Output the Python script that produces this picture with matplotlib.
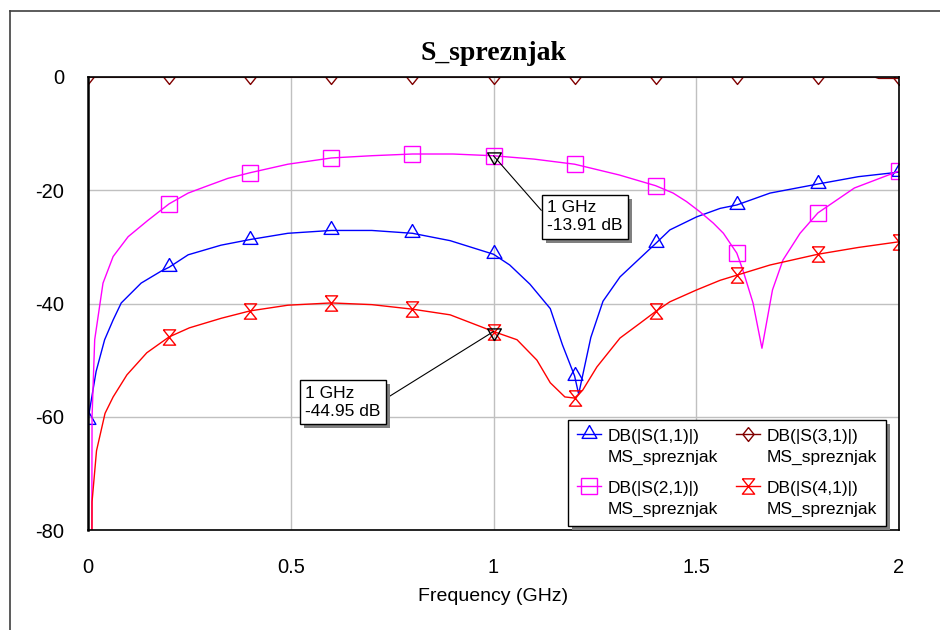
import matplotlib
matplotlib.use("Agg")
import matplotlib.pyplot as plt
import matplotlib.patheffects as pe
from matplotlib.lines import Line2D
from matplotlib.legend_handler import HandlerLine2D

# S(1,1)
f11 = [0.0, 0.02, 0.041, 0.062, 0.082, 0.131, 0.18, 0.2, 0.247, 0.328, 0.4, 0.493,
       0.6, 0.7, 0.8, 0.893, 1.0, 1.04, 1.09, 1.14, 1.17, 1.2, 1.21, 1.24, 1.27,
       1.312, 1.4, 1.435, 1.501, 1.559, 1.6, 1.682, 1.8, 1.9, 2.0]
s11 = [-60.5, -52.0, -46.4, -42.9, -39.9, -36.4, -34.3, -33.6, -31.4, -29.7, -28.7,
       -27.6, -27.1, -27.1, -27.6, -28.9, -31.3, -33.2, -36.6, -40.9, -47.3, -52.8,
       -56.0, -46.0, -39.6, -35.3, -29.4, -27.0, -24.7, -23.2, -22.6, -20.5, -18.9,
       -17.6, -16.8]

# S(2,1)
f21 = [0.0, 0.01, 0.0165, 0.037, 0.062, 0.099, 0.148, 0.2, 0.247, 0.288, 0.345, 0.4,
       0.493, 0.6, 0.7, 0.8, 0.9, 1.0, 1.1, 1.2, 1.31, 1.4, 1.443, 1.476, 1.509,
       1.542, 1.567, 1.583, 1.6, 1.615, 1.64, 1.662, 1.688, 1.714, 1.756, 1.8, 1.89,
       2.0]
s21 = [-400, -60.0, -46.4, -36.4, -31.7, -28.2, -25.3, -22.4, -20.5, -19.4, -17.9,
       -16.9, -15.4, -14.3, -13.9, -13.6, -13.6, -13.91, -14.5, -15.4, -17.3, -19.2,
       -20.5, -22.0, -23.8, -25.8, -27.6, -29.3, -31.1, -34.1, -39.9, -47.9, -37.6,
       -32.3, -27.6, -24.0, -19.6, -16.6]

# S(3,1)
f31 = [0.0, 0.2, 0.4, 0.6, 0.8, 1.0, 1.2, 1.4, 1.6, 1.8, 1.94, 1.95, 2.0]
s31 = [0.0, 0.0, 0.0, 0.0, 0.0, 0.0, 0.0, 0.0, 0.0, 0.0, 0.0, -0.25, -0.25]

# S(4,1)
f41 = [0.0, 0.01, 0.021, 0.042, 0.062, 0.096, 0.145, 0.2, 0.25, 0.329, 0.4, 0.493,
       0.6, 0.7, 0.8, 0.893, 1.0, 1.058, 1.107, 1.14, 1.176, 1.2, 1.22, 1.255, 1.312,
       1.361, 1.4, 1.435, 1.501, 1.559, 1.6, 1.682, 1.8, 1.9, 2.0]
s41 = [-400, -75.0, -66.0, -59.4, -56.5, -52.6, -48.7, -45.9, -44.3, -42.6, -41.3,
       -40.3, -39.9, -40.2, -41.0, -42.0, -44.95, -46.4, -50.0, -54.0, -56.5, -56.7,
       -55.3, -51.2, -46.1, -43.5, -41.4, -39.7, -37.6, -35.9, -35.0, -33.2, -31.3,
       -30.1, -29.1]

# markers of the two readouts
m1 = (1.0, -13.91)
m2 = (1.0, -44.95)

xticks = [0, 0.5, 1, 1.5, 2]
xlabels = ["0", "0.5", "1", "1.5", "2"]
yticks = [0, -20, -40, -60, -80]


def every_02(freqs):
    return [i for i, f in enumerate(freqs) if abs(f * 5 - round(f * 5)) < 1e-9]


# marker shapes like the simulator draws them
tri_up = [(0, 1), (-0.82, -0.43), (0.82, -0.43), (0, 1)]
tri_down = [(0, -1), (-0.82, 0.43), (0.82, 0.43), (0, -1)]
hourglass = [(-0.8, 1), (0.8, 1), (-0.8, -1), (0.8, -1), (-0.8, 1)]
diamond = [(0, 1), (0.8, 0), (0, -1), (-0.8, 0), (0, 1)]


class FirstLineHandler(HandlerLine2D):
    # put the legend sample next to the first line of a two-line label
    def create_artists(self, legend, orig_handle, xdescent, ydescent, width, height,
                       fontsize, trans):
        return super().create_artists(legend, orig_handle, xdescent,
                                      ydescent - 1.5 * fontsize, width, height,
                                      fontsize, trans)


plt.rcParams["font.family"] = ["Liberation Sans", "DejaVu Sans"]
plt.rcParams["axes.unicode_minus"] = False

fig = plt.figure(figsize=(9.4, 6.3), dpi=100)
ax = fig.add_axes([88 / 940, 100 / 630, 811 / 940, 453 / 630])

kw = dict(lw=1.0, mfc="none", mew=1.0)
ax.plot(f11, s11, color="#0000FF", marker=tri_up, ms=13, markevery=every_02(f11),
        label="DB(|S(1,1)|)\nMS_spreznjak", **kw)
ax.plot(f21, s21, color="#FF00FF", marker="s", ms=11, markevery=every_02(f21),
        label="DB(|S(2,1)|)\nMS_spreznjak", **kw)
ax.plot(f31, s31, color="#800000", marker=diamond, ms=10, markevery=every_02(f31),
        label="DB(|S(3,1)|)\nMS_spreznjak", **kw)
ax.plot(f41, s41, color="#FF0000", marker=hourglass, ms=11, markevery=every_02(f41),
        label="DB(|S(4,1)|)\nMS_spreznjak", **kw)

for m in (m1, m2):
    ax.plot([m[0]], [m[1]], marker=tri_down, ms=12, mfc="none", mec="black", mew=1.0)

shadow = [pe.SimplePatchShadow(offset=(3, -3), shadow_rgbFace="0.5", alpha=1), pe.Normal()]

a1 = ax.annotate("1 GHz\n-13.91 dB", xy=m1, xytext=(1.132, -24.7), fontsize=12.5,
                 ha="left", va="center", linespacing=1.25,
                 bbox=dict(boxstyle="square,pad=0.3", fc="white", ec="black", lw=1.0),
                 arrowprops=dict(arrowstyle="-", color="black", lw=0.8,
                                 shrinkA=0, shrinkB=0, relpos=(0, 0.5)))
a2 = ax.annotate("1 GHz\n-44.95 dB", xy=m2, xytext=(0.535, -57.4), fontsize=12.5,
                 ha="left", va="center", linespacing=1.25,
                 bbox=dict(boxstyle="square,pad=0.3", fc="white", ec="black", lw=1.0),
                 arrowprops=dict(arrowstyle="-", color="black", lw=0.8,
                                 shrinkA=0, shrinkB=0, relpos=(1, 0.5)))
for a in (a1, a2):
    a.get_bbox_patch().set_path_effects(shadow)

ax.set_xlim(0, 2)
ax.set_ylim(-80, 0)
ax.set_xticks(xticks)
ax.set_xticklabels(xlabels)
ax.set_yticks(yticks)
ax.tick_params(length=0, labelsize=14.5)
ax.tick_params(axis="y", pad=17)
ax.tick_params(axis="x", pad=20)
ax.grid(True, color="#C0C0C0", lw=1.0)
ax.set_axisbelow(True)
for side in ax.spines:
    ax.spines[side].set_color("black")
    ax.spines[side].set_linewidth(1.2)
ax.spines["left"].set_linewidth(1.8)

ax.set_xlabel("Frequency (GHz)", fontsize=14, labelpad=8)
ax.set_title("S_spreznjak", fontsize=20, fontweight="bold",
             family=["Liberation Serif", "DejaVu Serif"], pad=12)

leg = ax.legend(ncol=2, loc="upper left", bbox_to_anchor=(568 / 940, 1 - 420 / 630),
                bbox_transform=fig.transFigure, fontsize=12.5, frameon=True,
                fancybox=False, framealpha=1, edgecolor="black", borderaxespad=0,
                handlelength=1.4, handletextpad=0.4, columnspacing=1.0,
                labelspacing=0.95, borderpad=0.5,
                handler_map={Line2D: FirstLineHandler()})
for t in leg.get_texts():
    t.set_linespacing(1.5)
leg.get_frame().set_linewidth(1.0)
leg.get_frame().set_path_effects(shadow)

# outer frame of the graph window
fig.add_artist(Line2D([10 / 940, 10 / 940], [0, 1 - 11 / 630], color="#404040", lw=1.2))
fig.add_artist(Line2D([10 / 940, 1], [1 - 11 / 630, 1 - 11 / 630], color="#404040", lw=1.2))

fig.savefig("out.png", dpi=100)
